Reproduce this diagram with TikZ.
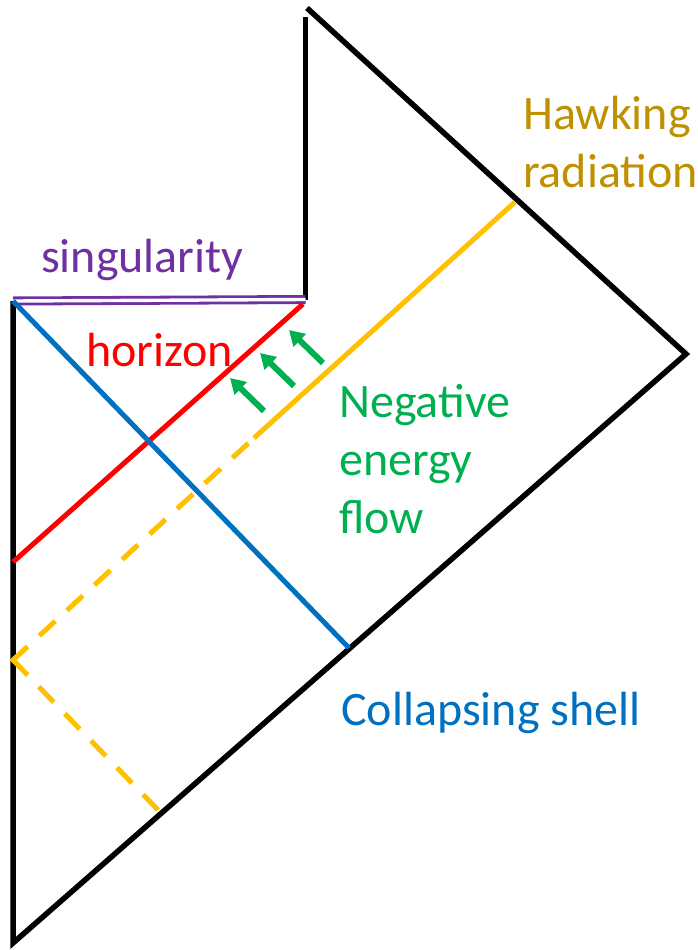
\documentclass[tikz,border=0pt]{standalone}
\usepackage{fontspec}
\setmainfont{Carlito}
\usepackage{tikz}
\usetikzlibrary{arrows.meta}

\definecolor{singcol}{HTML}{7030A0}
\definecolor{horcol}{HTML}{FF0000}
\definecolor{shellcol}{HTML}{0070C0}
\definecolor{flowcol}{HTML}{00B050}
\definecolor{raycol}{HTML}{FFC000}
\definecolor{hawkcol}{HTML}{BF9000}

\begin{document}
\begin{tikzpicture}[x=1pt, y=-1pt, >={Triangle[width=17pt,length=15pt]},
    edge/.style={line width=5.5pt, black},
    ray/.style={line width=5pt, raycol},
    label/.style={anchor=base west, inner sep=0pt, font=\fontsize{48}{58}\selectfont, align=left}]
        \useasboundingbox (0,0) rectangle (698,950);

        % Corners of the diagram
        \coordinate (top) at (307,8);
        \coordinate (right) at (686,354);
        \coordinate (bottom) at (13,943);
        \coordinate (origin) at (13,301);
        \coordinate (corner) at (305.5,299.5);

        % Draw outer boundary
        \draw[edge, miter limit=20] (origin) -- (bottom) -- (right) -- (top);
        \draw[edge] (305.5,17) -- (corner);

        % Draw singularity
        \draw[singcol, line width=2.8pt, double=white, double distance=3.4pt] (origin) -- (corner);

        % Draw horizon and collapsing shell
        \draw[horcol, line width=5pt] (303,304) -- (13,562);
        \draw[shellcol, line width=5pt] (origin) -- (349,648);

        % Draw Hawking ray, reflected at the centre
        \coordinate (hawk) at (515,202);
        \coordinate (split) at (254,438);
        \coordinate (mirror) at (13,660);
        \coordinate (inray) at (158,810);
        \draw[ray] (hawk) -- (split);
        \draw[ray, miter limit=20, dash pattern=on 21.5pt off 16pt on 21.5pt off 16pt on 21.5pt off 16pt
            on 21.5pt off 16pt on 21.5pt off 16pt on 41pt off 16pt
            on 21.5pt off 16pt on 21.5pt off 16pt on 21.5pt off 16pt on 21.5pt off 16pt
            on 21.5pt off 16pt on 21.5pt off 16pt on 21.5pt off 16pt on 21.5pt off 16pt]
            (inray) -- (mirror) -- (split);

        % Draw negative energy flow arrows
        \foreach \x/\y in {264/411, 294/386, 323/363}
            \draw[->, flowcol, line width=6pt] (\x,\y) -- ++(-34,-33);

        % Labels
        \node[label, text=singcol] (singlab) at (41,272) {singularity};
        \node[label, text=horcol] (horlab) at (86,366) {horizon};
        \node[label, text=hawkcol] (hawklab) at (523,187) {Hawking\\radiation};
        \node[label, text=flowcol] (flowlab) at (339,533) {Negative\\energy\\flow};
        \node[label, text=shellcol] (shelllab) at (341,725) {Collapsing shell};
    \end{tikzpicture}
\end{document}
